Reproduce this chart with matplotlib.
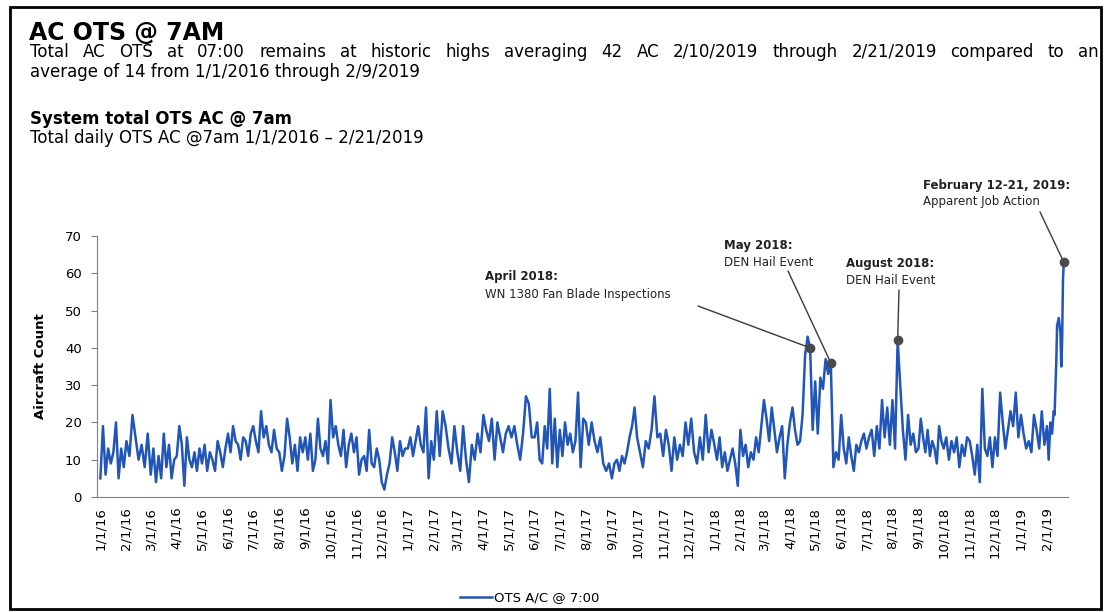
import numpy as np
import pandas as pd
import matplotlib
matplotlib.use('Agg')
import matplotlib.pyplot as plt
import matplotlib.dates as mdates
from matplotlib.patches import Rectangle

# readings per month, points spread evenly inside each month
ots_2016 = [
    [5, 19, 6, 13, 9, 12, 20, 5, 13, 8],
    [15, 11, 22, 16, 10, 14, 8, 17],
    [6, 13, 4, 11, 5, 17, 8, 14, 5, 10],
    [11, 19, 14, 3, 16, 10, 8, 12, 7, 13],
    [9, 14, 7, 12, 10, 7, 15, 12, 8, 13],
    [17, 12, 19, 15, 14, 10, 16, 15, 11, 17],
    [19, 15, 12, 23, 16, 19, 14, 12, 18, 13],
    [12, 7, 11, 21, 16, 9, 14, 7, 16, 12],
    [16, 10, 17, 7, 10, 21, 13, 11, 15, 9],
    [26, 16, 19, 14, 11, 18, 8, 14, 17, 12],
    [16, 6, 10, 11, 7, 18, 9, 8, 13, 10],
    [4, 2, 6, 9, 16, 12, 7, 15, 11, 13],
]
ots_2017 = [
    [13, 16, 11, 15, 19, 14, 12, 24, 5, 15],
    [10, 23, 11, 23, 19, 13, 9, 19],
    [12, 7, 19, 10, 4, 14, 10, 17, 12],
    [22, 18, 15, 21, 10, 20, 16, 12, 17],
    [19, 16, 19, 14, 10, 17, 27, 25, 16],
    [16, 20, 10, 9, 19, 13, 29, 9, 21, 8],
    [18, 11, 20, 14, 17, 12, 15, 28, 8, 21],
    [20, 14, 20, 15, 12, 16, 9, 7, 9],
    [5, 9, 10, 7, 11, 9, 12, 16, 19, 24],
    [16, 12, 8, 15, 13, 18, 27, 16, 17],
    [11, 18, 14, 7, 16, 10, 14, 11, 20],
    [14, 21, 12, 9, 16, 10, 22, 12, 18],
]
ots_2018 = [
    [14, 10, 16, 8, 12, 7, 10, 13, 9, 3],
    [18, 11, 14, 8, 12, 10, 16, 12, 19],
    [26, 21, 15, 24, 18, 12, 16, 19, 5, 14],
    [20, 24, 18, 14, 15, 22, 38, 43, 40, 18],
    [31, 17, 32, 29, 37, 33, 36, 8, 12, 10],
    [22, 13, 9, 16, 11, 7, 14, 12, 15, 17],
    [13, 16, 18, 11, 19, 13, 26, 16, 24, 14],
    [26, 13, 42, 30, 18, 10, 22, 14, 17, 12],
    [13, 21, 16, 12, 18, 11, 15, 13, 9, 19, 15],
    [13, 16, 10, 15, 12, 16, 8, 14, 11, 16],
    [15, 11, 6, 14, 4, 29, 13, 11, 16, 8],
    [16, 11, 28, 20, 13, 18, 23, 19, 28, 16],
]
ots_2019_jan = [22, 17, 13, 15, 12, 22, 18, 13, 23, 14]
feb_2019_days = [1, 3, 5, 7, 9, 10, 12, 13, 15, 17, 18, 19, 20, 21]
feb_2019_vals = [19, 10, 20, 17, 23, 22, 36, 46, 48, 44, 35, 42, 58, 63]

event_dates = ['2018-04-25', '2018-05-20', '2018-08-07', '2019-02-21']
event_titles = ['April 2018:', 'May 2018:', 'August 2018:', 'February 12-21, 2019:']
event_notes = ['WN 1380 Fan Blade Inspections', 'DEN Hail Event', 'DEN Hail Event',
               'Apparent Job Action']
# text anchor (px from top-left) and where the leader line starts
event_text_px = [(485, 277), (724, 246), (846, 264), (923, 185)]
event_line_px = [(698, 306), (788, 271), (899, 290), (1040, 212)]

yticks = [0, 10, 20, 30, 40, 50, 60, 70]

dates, vals = [], []
for year, months in [(2016, ots_2016), (2017, ots_2017), (2018, ots_2018), (2019, [ots_2019_jan])]:
    for m, pts in enumerate(months):
        start = pd.Timestamp(year, m + 1, 1)
        step = start.days_in_month / len(pts)
        for i, v in enumerate(pts):
            dates.append(start + pd.Timedelta(days=i * step))
            vals.append(v)
for d, v in zip(feb_2019_days, feb_2019_vals):
    dates.append(pd.Timestamp(2019, 2, d))
    vals.append(v)
s = pd.Series(vals, index=pd.DatetimeIndex(dates))

W, H = 1106, 612
def fx(x): return x / W
def fy(y): return 1 - y / H

fig = plt.figure(figsize=(W / 100, H / 100), dpi=100)
ax = fig.add_axes([fx(97), fy(497), (1068 - 97) / W, (497 - 236) / H])

blue = '#2156b8'
ax.plot(s.index, s.values, color=blue, lw=1.8, label='OTS A/C @ 7:00')

ax.set_xlim(pd.Timestamp('2015-12-28'), pd.Timestamp('2019-02-26'))
ax.set_ylim(0, 70)
ax.set_yticks(yticks)

months = pd.date_range('2016-01-01', '2019-02-01', freq='MS')
ax.set_xticks(months)
ax.set_xticklabels([f'{d.month}/1/{d:%y}' for d in months], rotation=90,
                   fontsize=9.5, va='top', ha='center')
ax.tick_params(axis='x', length=0, pad=7)
ax.tick_params(axis='y', length=4, color='#7f7f7f', labelsize=9.5, pad=7)

for side in ['top', 'right']:
    ax.spines[side].set_visible(False)
for side in ['left', 'bottom']:
    ax.spines[side].set_color('#7f7f7f')

ax.set_ylabel('Aircraft Count', fontsize=9.5, fontweight='bold')
ax.yaxis.set_label_coords((47 - 97) / (1068 - 97), 0.5)

# event markers
for d, t, n, (tx, ty), (lx, ly) in zip(event_dates, event_titles, event_notes,
                                        event_text_px, event_line_px):
    idx = np.argmin(np.abs((s.index - pd.Timestamp(d)).days))
    xd, yd = mdates.date2num(s.index[idx]), s.values[idx]
    ax.annotate('', xy=(xd, yd), xytext=(fx(lx), fy(ly)), textcoords='figure fraction',
                arrowprops=dict(arrowstyle='-', color='#3a3a3a', lw=1, shrinkA=0, shrinkB=0),
                annotation_clip=False)
    ax.plot(xd, yd, 'o', color='#4a4a4a', ms=6, clip_on=False, zorder=5)
    fig.text(fx(tx), fy(ty), t, fontsize=8.5, fontweight='bold', va='center', color='#222222')
    fig.text(fx(tx), fy(ty + 17), n, fontsize=8.5, va='center', color='#222222')

# header text
fig.text(fx(29), fy(40), 'AC OTS @ 7AM', fontsize=17, fontweight='bold', va='baseline')

# first body line is justified across the full width
line1 = ('Total AC OTS at 07:00 remains at historic highs averaging 42 AC '
         '2/10/2019 through 2/21/2019 compared to an')
renderer = fig.canvas.get_renderer()
words = []
for w in line1.split():
    t = fig.text(0, fy(57), w, fontsize=12, va='baseline')
    words.append((t, t.get_window_extent(renderer).width))
gap = (1099 - 30 - sum(wd for _, wd in words)) / (len(words) - 1)
xpos = 30
for t, wd in words:
    t.set_x(fx(xpos))
    xpos += wd + gap

fig.text(fx(30), fy(77), 'average of 14 from 1/1/2016 through 2/9/2019', fontsize=12, va='baseline')
fig.text(fx(30), fy(124), 'System total OTS AC @ 7am', fontsize=12, fontweight='bold',
         va='baseline')
fig.text(fx(30), fy(143), 'Total daily OTS AC @7am 1/1/2016 \u2013 2/21/2019', fontsize=12,
         va='baseline')

fig.legend(loc='center', bbox_to_anchor=(fx(530), fy(598)), frameon=False, fontsize=9.5,
           handlelength=2.4, handletextpad=0.2)

fig.patches.append(Rectangle((fx(10), fy(609)), fx(1101) - fx(10), fy(7) - fy(609),
                             transform=fig.transFigure, fill=False, ec='black', lw=2))

fig.savefig('out.png', dpi=100)
